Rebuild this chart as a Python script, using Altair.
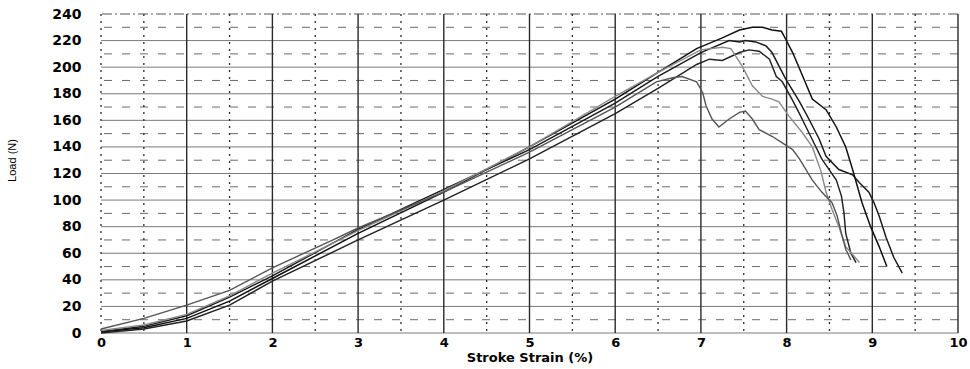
import altair as alt
import pandas as pd

# ---- data ----
A_x = [0, 0.5, 1.0, 1.5, 2.0, 3.0, 4.0, 5.0, 6.0, 6.5, 6.95, 7.25, 7.45, 7.6, 7.72, 7.83, 7.94, 7.99, 8.07, 8.15, 8.3, 8.46, 8.58, 8.69, 8.77, 8.88, 8.98, 9.08, 9.17]
A_y = [1, 4, 11, 24, 41, 75, 106, 140, 176, 196, 214, 222, 228, 230, 230, 228, 227, 221, 211, 199, 176, 168, 155, 140, 123, 98, 80, 65, 50]

B_x = [0, 0.5, 1.0, 1.5, 2.0, 3.0, 4.0, 5.0, 6.0, 6.5, 7.0, 7.33, 7.45, 7.52, 7.64, 7.76, 7.83, 7.91, 7.99, 8.15, 8.26, 8.38, 8.46, 8.61, 8.77, 8.85, 8.96, 9.02, 9.08, 9.16, 9.25, 9.35]
B_y = [1, 5, 13, 27, 43, 78, 108, 138, 173, 193, 211, 220, 219, 220, 219, 216, 211, 201, 191, 174, 161, 146, 133, 123, 119, 113, 106, 98, 88, 72, 57, 45]

C_x = [0, 0.5, 1.0, 1.5, 2.0, 3.0, 4.0, 5.0, 6.0, 6.5, 6.95, 7.1, 7.25, 7.45, 7.56, 7.68, 7.8, 7.88, 7.95, 8.07, 8.15, 8.28, 8.41, 8.58, 8.64, 8.67, 8.69, 8.75, 8.81]
C_y = [0, 3, 9, 21, 39, 70, 100, 131, 165, 184, 202, 206, 205, 211, 213, 212, 206, 193, 189, 175, 165, 148, 131, 115, 103, 90, 75, 60, 53]

D_x = [0, 0.5, 1.0, 1.5, 2.0, 3.0, 4.0, 5.0, 6.0, 6.5, 7.0, 7.25, 7.35, 7.48, 7.6, 7.72, 7.83, 7.91, 8.03, 8.18, 8.3, 8.4, 8.46, 8.53, 8.61, 8.69, 8.85]
D_y = [2, 6, 14, 28, 45, 77, 107, 140, 178, 196, 213, 215, 214, 201, 186, 178, 176, 174, 163, 151, 140, 122, 106, 93, 80, 65, 53]

E_x = [0, 0.5, 1.0, 1.5, 2.0, 2.67, 3.0, 4.0, 5.0, 6.0, 6.48, 6.67, 6.78, 6.95, 7.02, 7.06, 7.13, 7.21, 7.33, 7.45, 7.52, 7.6, 7.68, 7.83, 7.95, 8.07, 8.15, 8.3, 8.41, 8.53, 8.59, 8.64, 8.69, 8.75]
E_y = [3, 11, 21, 32, 49, 69, 79, 106, 136, 170, 189, 192, 193, 189, 181, 171, 161, 155, 161, 166, 167, 161, 153, 148, 143, 138, 131, 115, 106, 98, 88, 75, 63, 55]

series_names = ["A", "B", "C", "D", "E"]
series_colors = ["#111111", "#1a1a1a", "#222222", "#8a8a8a", "#555555"]

x_ticks = [0, 1, 2, 3, 4, 5, 6, 7, 8, 9, 10]
y_ticks = [0, 20, 40, 60, 80, 100, 120, 140, 160, 180, 200, 220, 240]

grid_x_major = [1, 2, 3, 4, 5, 6, 7, 8, 9, 10]
grid_x_half = [0, 0.5, 1.5, 2.5, 3.5, 4.5, 5.5, 6.5, 7.5, 8.5, 9.5]
grid_y_major = [0, 20, 40, 60, 80, 100, 120, 140, 160, 180, 200, 220]
grid_y_minor = [10, 30, 50, 70, 90, 110, 130, 150, 170, 190, 210, 230]
grid_y_top = [240]

rows = []
for name, xs, ys in zip(series_names, [A_x, B_x, C_x, D_x, E_x], [A_y, B_y, C_y, D_y, E_y]):
    for i, (xv, yv) in enumerate(zip(xs, ys)):
        rows.append({"series": name, "strain": xv, "load": yv, "i": i})
df = pd.DataFrame(rows)

xscale = alt.Scale(domain=[0, 10], nice=False, zero=False)
yscale = alt.Scale(domain=[0, 240], nice=False, zero=False)

FONT = "DejaVu Sans"

x_axis = alt.Axis(values=x_ticks, format="d", grid=False, ticks=False, domain=False,
                  labelFont=FONT, labelFontWeight="bold", labelFontSize=13, labelColor="#000000",
                  labelPadding=3, labelFlush=False,
                  title="Stroke Strain (%)", titleFont=FONT, titleFontWeight="bold",
                  titleFontSize=13, titleColor="#000000", titlePadding=2)
y_axis = alt.Axis(values=y_ticks, format="d", grid=False, ticks=False, domain=False,
                  labelFont=FONT, labelFontWeight="bold", labelFontSize=14, labelColor="#000000",
                  labelPadding=20, labelFlush=False,
                  title="Load (N)", titleFont="Liberation Sans Narrow, Liberation Sans",
                  titleFontWeight="normal", titleFontSize=11, titleColor="#000000",
                  titleX=-89, titleY=146, titleAngle=-90, titleAlign="center",
                  titleBaseline="middle")

X_T = "Stroke Strain (%)"
Y_T = "Load (N)"

vmaj = alt.Chart(pd.DataFrame({"v": grid_x_major})).mark_rule(color="#2a2a2a", strokeWidth=1.4).encode(
    x=alt.X("v:Q", scale=xscale, axis=x_axis, title=X_T))
vhalf = alt.Chart(pd.DataFrame({"v": grid_x_half})).mark_rule(color="#2a2a2a", strokeWidth=1.3, strokeDash=[2, 5]).encode(
    x=alt.X("v:Q", scale=xscale, axis=x_axis, title=X_T))
hmaj = alt.Chart(pd.DataFrame({"v": grid_y_major})).mark_rule(color="#7a7a7a", strokeWidth=1).encode(
    y=alt.Y("v:Q", scale=yscale, axis=y_axis, title=Y_T))
hmin = alt.Chart(pd.DataFrame({"v": grid_y_minor})).mark_rule(color="#6a6a6a", strokeWidth=1, strokeDash=[8, 10]).encode(
    y=alt.Y("v:Q", scale=yscale, axis=y_axis, title=Y_T))
htop = alt.Chart(pd.DataFrame({"v": grid_y_top})).mark_rule(color="#555555", strokeWidth=1, strokeDash=[10, 3, 2, 3]).encode(
    y=alt.Y("v:Q", scale=yscale, axis=y_axis, title=Y_T))

lines = alt.Chart(df).mark_line(interpolate="linear").encode(
    x=alt.X("strain:Q", scale=xscale, axis=x_axis, title=X_T),
    y=alt.Y("load:Q", scale=yscale, axis=y_axis, title=Y_T),
    color=alt.Color("series:N", scale=alt.Scale(domain=series_names, range=series_colors), legend=None),
    strokeWidth=alt.StrokeWidth("series:N", scale=alt.Scale(domain=series_names, range=[1.5, 1.4, 1.4, 1.1, 1.0]), legend=None),
    order="i:Q",
    detail="series:N",
)

chart = alt.layer(hmaj, hmin, htop, vhalf, vmaj, lines).properties(
    width=857, height=319,
    padding={"left": 101, "top": 14, "right": 12, "bottom": 36},
    autosize=alt.AutoSizeParams(type="none"),
    background="white",
).configure_view(stroke=None)

chart.save("out.html", embed_options={"renderer": "svg", "actions": False})
